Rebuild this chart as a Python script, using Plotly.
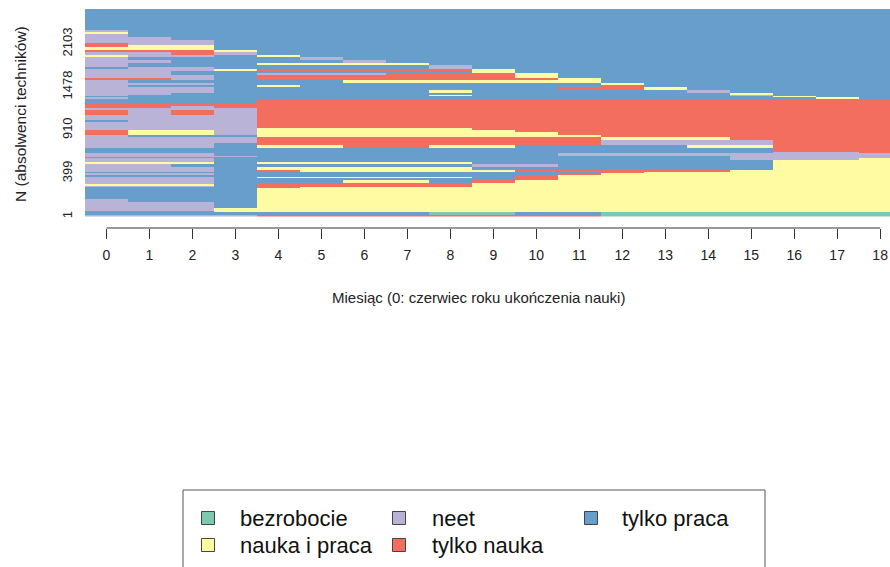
import re
import numpy as np
import plotly.graph_objects as go

# ---- data -------------------------------------------------------------
STATE_LABELS = ["bezrobocie", "nauka i praca", "neet", "tylko nauka", "tylko praca"]
STATE_CODES = ["B", "P", "N", "S", "W"]
STATE_COLORS = ["#7CC8B2", "#FFFBA2", "#B9B3D8", "#F36E5F", "#689ECB"]

MONTHS = list(range(19))

# weighted positions on the vertical axis and the sequence number found there
Y_TICK_POS = [0, 500, 1000, 1500, 2000]
Y_TICK_LABELS = ["1", "399", "910", "1478", "2103"]

# Sequence groups, sorted from the end (bottom to top), with their weights.
# Each pattern is run-length coded: state code followed by number of months.
SEQ_WEIGHTS = [
    23, 29,
    12, 35, 69, 35, 127, 12, 17, 12, 17, 35, 23, 17, 17, 23, 12, 23,
    35, 35, 23, 23, 23,
    12, 17, 29,
    12, 46, 35, 23, 35, 35, 23, 38, 20, 23, 69, 23, 58, 58, 23, 23, 35, 35, 12,
    23, 12, 12, 23, 35, 35, 23, 23, 29, 29, 29, 29, 23, 23, 23, 23,
    27, 31, 31, 27, 35, 23, 35, 23, 23, 35, 35, 40, 12, 29, 243,
]
SEQ_PATTERNS = [
    "N4S8B7", "W8B2W2B7",
    "S3P16", "N3P16", "N3W1P15", "N1W3P15", "W4P15", "W4S1P14",
    "N3W1S5P10", "P3W1S5P10", "N3W1S5P10", "N3W3P2W1S1P9", "N3W7S1P8",
    "N3W1P5W1S1P8", "W10S1P8", "N3W8S1P7", "W12S1P6", "N3W1S1P5S5P4",
    "N3W1P5W7P3", "N2W7N2W5P3", "P3W1P5W7P3", "N3W13P3", "N3W12N3P1",
    "S3W12N4", "N4W11N4", "N3W8N8",
    "W16N2S1", "W16S3", "N3W1P2S2P2W4P2S3", "N3W1S8N4S3", "N4S8N4S3",
    "N4S8P3S4", "N1W3P8S7", "S1P2N1P7S8", "S1P2N1P6S9", "N4P5S10",
    "N4S15", "W1N3S15", "N4S15", "S1N1S1N1S15", "N4S15", "S2N1S16", "S19",
    "W4S15", "W18S1",
    "N1W16P1W1", "W16P1W2", "N1W7P1W6N1W3", "N2W13P1W3", "N3W5P1W5N1W4",
    "N3W8S2P1W5", "N1W3P1W7S1W6", "N3W9P1W6", "N1W5P6W7", "S2N1W1S7P1W7",
    "N3W1S6P1W8", "N2W2N3S3P1W8", "N2W7P1W9", "N3P1S5P1W9", "W1N2W5N1W10",
    "N1W7N1W10", "N1W3P4W11", "N2W4N1W12", "N1W4N1W13", "P1N2W1P1W14",
    "N2S1N1W15", "S3P1W15", "P3W16", "S1P2W16", "S1N2W16", "N3W16", "N2W17",
    "N1W18", "P1W18", "N1W18", "W19",
]


def expand(pattern):
    states = []
    for code, run in re.findall(r"([A-Z])(\d+)", pattern):
        states += [STATE_CODES.index(code)] * int(run)
    assert len(states) == len(MONTHS), pattern
    return states


z = np.array([expand(p) for p in SEQ_PATTERNS])
y_edges = np.concatenate([[0], np.cumsum(SEQ_WEIGHTS)])
x_edges = np.arange(len(MONTHS) + 1) - 0.5
w_total = float(y_edges[-1])

# discrete colour scale: one flat band per state
n_states = len(STATE_COLORS)
colorscale = []
for i, c in enumerate(STATE_COLORS):
    colorscale.append([i / n_states, c])
    colorscale.append([(i + 1) / n_states, c])

fig = go.Figure(
    go.Heatmap(
        z=z,
        x=x_edges,
        y=y_edges,
        zmin=-0.5,
        zmax=n_states - 0.5,
        colorscale=colorscale,
        showscale=False,
        zsmooth=False,
        hoverinfo="skip",
    )
)

# ---- layout geometry (pixels) ----------------------------------------
W, H = 890, 567
L, T = 85, 9
AXIS_Y = 228            # pixel row of the month axis
PLOT_BOTTOM = 216.5     # bottom of the sequence area
area_h = AXIS_Y - T
area_w = W - L


def px_x(px):
    return (px - L) / area_w


def px_y(py):
    return (AXIS_Y - py) / area_h


FONT = "Liberation Sans, Arial, sans-serif"
TXT = "#222222"

fig.update_layout(
    width=W,
    height=H,
    margin=dict(l=L, r=0, t=T, b=H - AXIS_Y),
    paper_bgcolor="white",
    plot_bgcolor="white",
    font=dict(family=FONT, color=TXT),
    showlegend=False,
    xaxis=dict(
        range=[-0.5, -0.5 + area_w / 42.98],
        tickvals=MONTHS,
        ticktext=[str(m) for m in MONTHS],
        ticks="outside",
        ticklen=10,
        tickwidth=1,
        tickcolor="#333333",
        ticklabelstandoff=4,
        tickfont=dict(size=14, family=FONT, color=TXT),
        showgrid=False,
        zeroline=False,
        showline=False,
        anchor="free",
        position=0,
    ),
    yaxis=dict(
        domain=[(AXIS_Y - PLOT_BOTTOM) / area_h, 1],
        range=[0, w_total],
        tickvals=Y_TICK_POS,
        ticktext=Y_TICK_LABELS,
        tickangle=-90,
        ticks="",
        ticklabelstandoff=9,
        tickfont=dict(size=13, family=FONT, color=TXT),
        showgrid=False,
        zeroline=False,
        showline=False,
    ),
)

shapes = [
    # month axis line running from the first to the last tick
    dict(type="line", xref="x", yref="paper", x0=MONTHS[0], x1=MONTHS[-1],
         y0=0, y1=0, line=dict(color="#333333", width=1)),
    # legend frame
    dict(type="rect", xref="paper", yref="paper",
         x0=px_x(183), x1=px_x(765), y0=px_y(490), y1=px_y(600),
         line=dict(color="#555555", width=1), fillcolor="rgba(0,0,0,0)"),
]

annotations = [
    dict(text="Miesiąc (0: czerwiec roku ukończenia nauki)", xref="paper", yref="paper",
         x=px_x(478), y=px_y(297), showarrow=False, xanchor="center", yanchor="middle",
         font=dict(size=15, family=FONT, color=TXT)),
    dict(text="N (absolwenci techników)", xref="paper", yref="paper",
         x=px_x(20), y=px_y(114), showarrow=False, textangle=-90,
         xanchor="center", yanchor="middle",
         font=dict(size=15.5, family=FONT, color=TXT)),
]

# legend entries, filled column by column (two rows)
col_box_x = [208, 399, 591]
col_text_x = [238, 430, 620]
row_y = [518, 545]
box = 13
for i, (label, color) in enumerate(zip(STATE_LABELS, STATE_COLORS)):
    col, row = divmod(i, 2)
    cx, cy = col_box_x[col], row_y[row]
    shapes.append(dict(type="rect", xref="paper", yref="paper",
                       x0=px_x(cx - box / 2), x1=px_x(cx + box / 2),
                       y0=px_y(cy + box / 2), y1=px_y(cy - box / 2),
                       line=dict(color="#444444", width=1), fillcolor=color))
    annotations.append(dict(text=label, xref="paper", yref="paper",
                            x=px_x(col_text_x[col]), y=px_y(cy), showarrow=False,
                            xanchor="left", yanchor="middle",
                            font=dict(size=22, family=FONT, color="#111111")))

fig.update_layout(shapes=shapes, annotations=annotations)

fig.write_html("out.html")
